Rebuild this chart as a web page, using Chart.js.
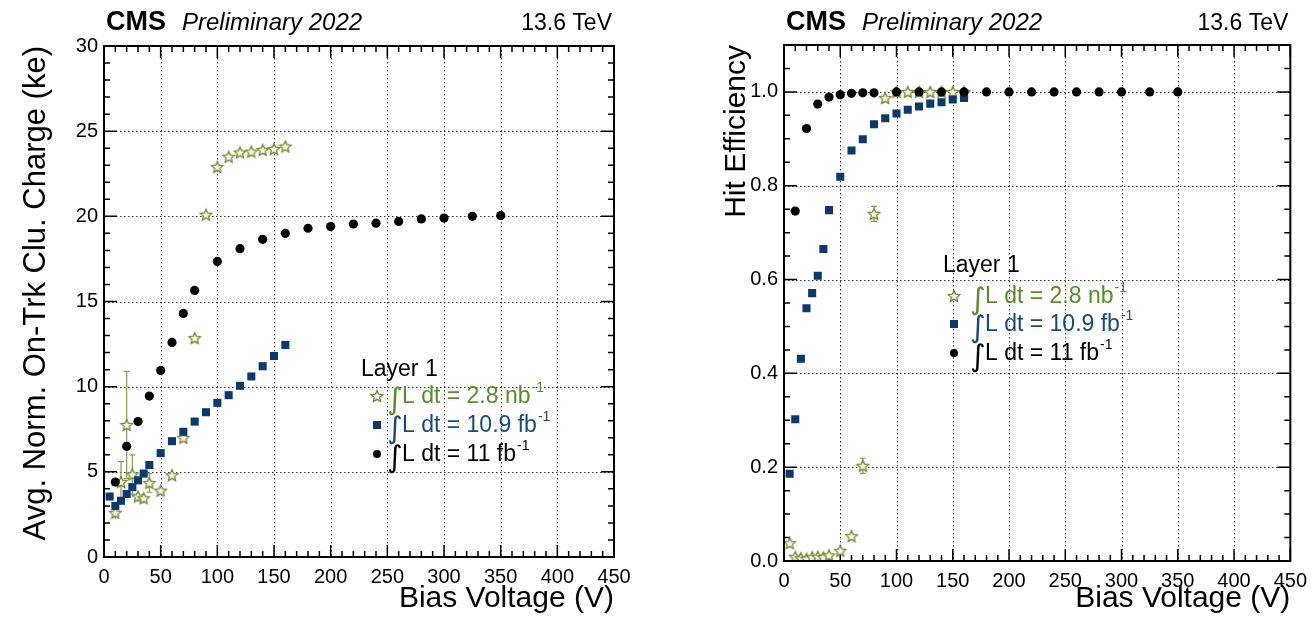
<!DOCTYPE html>
<html>
<head>
<meta charset="utf-8">
<script src="https://cdn.jsdelivr.net/npm/chart.js"></script>
<style>
  body { margin: 0; background: #fff; width: 1315px; height: 617px; overflow: hidden; position: relative; }
  canvas { position: absolute; top: 0; }
  #c1 { left: 0; }
  #c2 { left: 657px; }
</style>
</head>
<body>
<canvas id="c1" width="657" height="617"></canvas>
<canvas id="c2" width="658" height="617"></canvas>
<script>
// tick labels
const X_TICKS = [0, 50, 100, 150, 200, 250, 300, 350, 400, 450]
const CHARGE_TICKS = [0, 5, 10, 15, 20, 25, 30]
const EFF_TICKS = [0, 0.2, 0.4, 0.6, 0.8, 1.0]

// series labels
const LABEL_LOW = 'L dt = 2.8 nb'
const LABEL_MID = 'L dt = 10.9 fb'
const LABEL_HIGH = 'L dt = 11 fb'

// left: cluster charge (ke)
const lowChargeV = [10, 15, 20, 25, 30, 35, 40, 50, 60, 70, 80, 90, 100, 110, 120, 130, 140, 150, 160]
const lowCharge = [2.6, 4.4, 7.75, 4.85, 3.55, 3.45, 4.35, 3.9, 4.8, 7.0, 12.85, 20.1, 22.9, 23.5, 23.75, 23.8, 23.9, 23.95, 24.1]
const lowChargeErr = [0.35, 1.2, 3.15, 1.15, 0.3, 0.3, 0.55, 0.25, 0.2, 0.15, 0.15, 0.1, 0.1, 0.1, 0.1, 0.1, 0.1, 0.1, 0.1]

const midChargeV = [5, 10, 15, 20, 25, 30, 35, 40, 50, 60, 70, 80, 90, 100, 110, 120, 130, 140, 150, 160]
const midCharge = [3.55, 3.0, 3.3, 3.7, 4.1, 4.5, 4.9, 5.4, 6.1, 6.8, 7.35, 7.95, 8.5, 9.05, 9.5, 10.05, 10.6, 11.2, 11.8, 12.45]

const highChargeV = [10, 20, 30, 40, 50, 60, 70, 80, 100, 120, 140, 160, 180, 200, 220, 240, 260, 280, 300, 325, 350]
const highCharge = [4.4, 6.5, 7.95, 9.45, 10.95, 12.6, 14.3, 15.65, 17.35, 18.1, 18.65, 19.0, 19.3, 19.4, 19.55, 19.6, 19.7, 19.85, 19.9, 20.0, 20.05]

// right: hit efficiency
const lowEffV = [5, 10, 15, 20, 25, 30, 35, 40, 50, 60, 70, 80, 90, 100, 110, 120, 130, 140, 150, 160]
const lowEff = [0.038, 0.009, 0.006, 0.005, 0.008, 0.009, 0.008, 0.012, 0.022, 0.053, 0.203, 0.74, 0.987, 1.0, 1.0, 1.0, 1.0, 1.0, 1.0, 1.0]
const lowEffErr = [0.004, 0.003, 0.003, 0.003, 0.003, 0.003, 0.003, 0.004, 0.005, 0.006, 0.016, 0.016, 0.004, 0, 0, 0, 0, 0, 0, 0]

const midEffV = [5, 10, 15, 20, 25, 30, 35, 40, 50, 60, 70, 80, 90, 100, 110, 120, 130, 140, 150, 160]
const midEff = [0.186, 0.302, 0.431, 0.539, 0.571, 0.608, 0.665, 0.748, 0.819, 0.875, 0.899, 0.931, 0.944, 0.954, 0.962, 0.969, 0.975, 0.978, 0.984, 0.987]

const highEffV = [10, 20, 30, 40, 50, 60, 70, 80, 100, 120, 140, 160, 180, 200, 220, 240, 260, 280, 300, 325, 350]
const highEff = [0.746, 0.922, 0.974, 0.989, 0.994, 0.997, 0.998, 0.998, 1.0, 1.0, 1.0, 1.0, 1.0, 1.0, 1.0, 1.0, 1.0, 1.0, 1.0, 1.0, 1.0]

const GREEN = '#75893a'
const GREEN_TEXT = '#5b8c2c'
const BLUE = '#0b3a6a'
const BLUE_TEXT = '#1b4a7a'
const FONT = '"Liberation Sans", Arial, sans-serif'

function starImage(stroke, fill, r) {
  const c = document.createElement('canvas')
  const s = Math.ceil(r * 2 + 4)
  c.width = c.height = s
  const g = c.getContext('2d')
  g.translate(s / 2, s / 2 + 0.5)
  g.beginPath()
  for (let i = 0; i < 10; i++) {
    const rr = i % 2 ? r * 0.47 : r
    const a = -Math.PI / 2 + i * Math.PI / 5
    g.lineTo(rr * Math.cos(a), rr * Math.sin(a))
  }
  g.closePath()
  g.fillStyle = fill
  g.fill()
  g.lineWidth = 1.3
  g.strokeStyle = stroke
  g.stroke()
  return c
}
const STAR = starImage(GREEN, '#f5f6df', 6)

function pts(xs, ys) {
  return xs.map((x, i) => ({ x: x, y: ys[i] }))
}

// grid, ticks, error bars, box, texts
const cms = {
  id: 'cms',
  beforeDatasetsDraw(chart, args, o) {
    const { ctx, chartArea: a, scales: { x, y } } = chart
    ctx.save()
    ctx.strokeStyle = '#333'
    ctx.lineWidth = 1
    ctx.setLineDash([1.5, 2.5])
    ctx.beginPath()
    X_TICKS.slice(1, -1).forEach(v => {
      const p = Math.round(x.getPixelForValue(v)) + 0.5
      ctx.moveTo(p, a.top); ctx.lineTo(p, a.bottom)
    })
    o.yTicks.slice(1).forEach(v => {
      if (v >= o.yMax) return
      const p = Math.round(y.getPixelForValue(v)) + 0.5
      ctx.moveTo(a.left, p); ctx.lineTo(a.right, p)
    })
    ctx.stroke()
    ctx.setLineDash([])

    // tick marks
    ctx.strokeStyle = '#000'
    ctx.lineWidth = 1.5
    ctx.beginPath()
    let n = Math.round(450 / 10)
    for (let i = 0; i <= n; i++) {
      const p = x.getPixelForValue(i * 10)
      const len = i % 5 === 0 ? 12 : 6
      ctx.moveTo(p, a.bottom); ctx.lineTo(p, a.bottom - len)
      ctx.moveTo(p, a.top); ctx.lineTo(p, a.top + len)
    }
    n = Math.round(o.yMax / o.yMinor)
    for (let i = 0; i <= n; i++) {
      const p = y.getPixelForValue(i * o.yMinor)
      const len = i % o.yMajorEvery === 0 ? 13 : 6
      ctx.moveTo(a.left, p); ctx.lineTo(a.left + len, p)
      ctx.moveTo(a.right, p); ctx.lineTo(a.right - len, p)
    }
    ctx.stroke()

    // error bars
    chart.data.datasets.forEach((ds, di) => {
      if (!ds.errors) return
      const meta = chart.getDatasetMeta(di)
      ctx.strokeStyle = '#8a9a52'
      ctx.lineWidth = 1.2
      ctx.beginPath()
      meta.data.forEach((el, i) => {
        const e = ds.errors[i]
        if (!e) return
        const v = ds.data[i].y
        const top = y.getPixelForValue(v + e)
        const bot = y.getPixelForValue(v - e)
        ctx.moveTo(el.x, top); ctx.lineTo(el.x, bot)
        if (top < el.y - 6) {
          ctx.moveTo(el.x - 3, top); ctx.lineTo(el.x + 3, top)
          ctx.moveTo(el.x - 3, bot); ctx.lineTo(el.x + 3, bot)
        }
      })
      ctx.stroke()
    })
    ctx.restore()
  },
  afterDraw(chart, args, o) {
    const { ctx, chartArea: a } = chart
    ctx.save()
    ctx.strokeStyle = '#000'
    ctx.lineWidth = 2
    ctx.strokeRect(a.left, a.top, a.right - a.left, a.bottom - a.top)

    // header
    ctx.fillStyle = '#000'
    ctx.textBaseline = 'alphabetic'
    ctx.textAlign = 'left'
    ctx.font = 'bold 27px ' + FONT
    ctx.fillText('CMS', a.left + 2, 30)
    ctx.font = 'italic 24px ' + FONT
    ctx.fillText('Preliminary 2022', a.left + 78, 30)
    ctx.textAlign = 'right'
    ctx.font = '23px ' + FONT
    ctx.fillText('13.6 TeV', a.right - 2, 30)

    // axis titles
    ctx.font = '30px ' + FONT
    ctx.fillText('Bias Voltage (V)', a.right, 607)
    ctx.save()
    ctx.translate(o.yTitleX, a.top)
    ctx.rotate(-Math.PI / 2)
    ctx.font = o.yTitleSize + 'px ' + FONT
    ctx.fillText(o.yTitle, 0, 0)
    ctx.restore()

    // legend
    const L = o.legend
    ctx.textAlign = 'left'
    ctx.font = '23px ' + FONT
    ctx.fillStyle = '#000'
    ctx.fillText('Layer 1', L.x, L.head)
    const rows = [
      { mk: 'star', color: GREEN_TEXT, text: LABEL_LOW },
      { mk: 'rect', color: BLUE_TEXT, text: LABEL_MID },
      { mk: 'circle', color: '#000', text: LABEL_HIGH }
    ]
    rows.forEach((r, i) => {
      const base = L.rows[i]
      const my = base - 7
      if (r.mk === 'star') ctx.drawImage(STAR, L.mx - STAR.width / 2, my - STAR.height / 2)
      else if (r.mk === 'rect') { ctx.fillStyle = BLUE; ctx.fillRect(L.mx - 4, my - 4, 8, 8) }
      else { ctx.fillStyle = '#000'; ctx.beginPath(); ctx.arc(L.mx, my, 4, 0, Math.PI * 2); ctx.fill() }
      ctx.fillStyle = r.color
      ctx.font = '30px "DejaVu Sans", sans-serif'
      ctx.fillText('\u222B', L.tx, base + 6)
      ctx.font = '23px ' + FONT
      ctx.fillText(r.text, L.tx + 15, base)
      const w = ctx.measureText(r.text).width
      ctx.font = '14px ' + FONT
      ctx.fillText('-1', L.tx + 16 + w, base - 11)
    })
    ctx.restore()
  }
}

function makeChart(id, cfg) {
  const tickFont = { family: FONT, size: 20 }
  return new Chart(document.getElementById(id), {
    type: 'scatter',
    data: {
      datasets: [
        { label: LABEL_LOW, data: cfg.low, errors: cfg.lowErr, pointStyle: STAR, order: 3 },
        { label: LABEL_MID, data: cfg.mid, pointStyle: 'rect', pointRadius: 5.7, backgroundColor: BLUE, borderColor: BLUE, borderWidth: 0, order: 2 },
        { label: LABEL_HIGH, data: cfg.high, pointStyle: 'circle', pointRadius: 4.6, backgroundColor: '#000', borderColor: '#000', borderWidth: 0, order: 1 }
      ]
    },
    options: {
      responsive: false,
      animation: false,
      layout: { padding: cfg.padding },
      plugins: {
        legend: { display: false },
        tooltip: { enabled: false },
        cms: cfg.frame
      },
      scales: {
        x: {
          type: 'linear', min: 0, max: 450,
          afterBuildTicks: s => { s.ticks = X_TICKS.map(v => ({ value: v })) },
          afterFit: s => { s.height = cfg.xHeight },
          grid: { display: false, drawTicks: false },
          border: { display: false },
          ticks: { font: tickFont, color: '#000', padding: 8, maxRotation: 0, autoSkip: false }
        },
        y: {
          type: 'linear', min: 0, max: cfg.frame.yMax,
          afterBuildTicks: s => { s.ticks = cfg.frame.yTicks.map(v => ({ value: v })) },
          afterFit: s => { s.width = cfg.yWidth },
          grid: { display: false, drawTicks: false },
          border: { display: false },
          ticks: { font: tickFont, color: '#000', padding: 6, autoSkip: false, callback: cfg.fmt }
        }
      }
    },
    plugins: [cms]
  })
}

makeChart('c1', {
  low: pts(lowChargeV, lowCharge), lowErr: lowChargeErr,
  mid: pts(midChargeV, midCharge),
  high: pts(highChargeV, highCharge),
  padding: { left: 0, top: 46, right: 43, bottom: 0 },
  yWidth: 104, xHeight: 60,
  fmt: v => String(v),
  frame: {
    yTicks: CHARGE_TICKS, yMax: 30, yMinor: 1, yMajorEvery: 5,
    yTitle: 'Avg. Norm. On-Trk Clu. Charge (ke)', yTitleX: 45, yTitleSize: 31,
    legend: { x: 361, head: 376, mx: 377, tx: 387, rows: [403, 432, 461] }
  }
})

makeChart('c2', {
  low: pts(lowEffV, lowEff), lowErr: lowEffErr,
  mid: pts(midEffV, midEff),
  high: pts(highEffV, highEff),
  padding: { left: 0, top: 45, right: 16, bottom: 0 },
  yWidth: 127, xHeight: 56,
  fmt: v => v.toFixed(1),
  frame: {
    yTicks: EFF_TICKS, yMax: 1.1, yMinor: 0.05, yMajorEvery: 4,
    yTitle: 'Hit Efficiency', yTitleX: 88, yTitleSize: 30,
    legend: { x: 286, head: 272, mx: 297, tx: 313, rows: [303, 331, 360] }
  }
})
</script>
</body>
</html>
